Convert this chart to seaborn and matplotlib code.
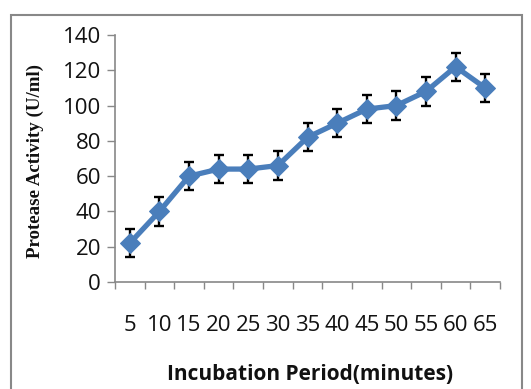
import matplotlib
matplotlib.use("Agg")
import matplotlib.pyplot as plt
import seaborn as sns
import pandas as pd
import numpy as np
from matplotlib.patches import Rectangle

minutes = ["5", "10", "15", "20", "25", "30", "35", "40", "45", "50", "55", "60", "65"]
activity = [22, 40, 60, 64, 64, 66, 82, 90, 98, 100, 108, 122, 110]
errors = [8, 8, 8, 8, 8, 8, 8, 8, 8, 8, 8, 8, 8]

sns.set_theme(style="white")
plt.rcParams["font.family"] = ["Open Sans", "DejaVu Sans"]

df = pd.DataFrame({"pos": np.arange(len(minutes)), "activity": activity, "err": errors})

fig = plt.figure(figsize=(5.31, 3.89), dpi=100)
fig.patch.set_facecolor("white")
ax = fig.add_axes([115/531, 1-282/389, (500-115)/531, (282-35)/389])

blue = "#4A7EBB"
ax.errorbar(df["pos"], df["activity"], yerr=df["err"], fmt="none", ecolor="black",
            elinewidth=1.7, capsize=3.8, capthick=1.7, zorder=1)
sns.lineplot(data=df, x="pos", y="activity", ax=ax, color=blue, linewidth=3.8,
             marker="D", markersize=10, markeredgecolor=blue, zorder=3)

ax.set_xlim(-0.5, len(minutes) - 0.5)
ax.set_ylim(0, 140)
ax.set_yticks(range(0, 141, 20))
ax.set_xticks(df["pos"])
ax.set_xticklabels(minutes)
ax.set_xticks(np.arange(-0.5, len(minutes), 1.0), minor=True)
ax.tick_params(axis="x", which="major", length=0, pad=24, labelsize=16, labelcolor="#111111")
ax.tick_params(axis="x", which="minor", length=5, width=1, color="#888888", direction="out", bottom=True)
ax.tick_params(axis="y", length=6, width=1, color="#888888", direction="out", left=True,
               labelsize=16, pad=4, labelcolor="#111111")

for s in ["top", "right"]:
    ax.spines[s].set_visible(False)
for s in ["left", "bottom"]:
    ax.spines[s].set_color("#888888")
    ax.spines[s].set_linewidth(1.2)

ax.set_xlabel("Incubation Period(minutes)", fontsize=15, fontweight="bold", color="#111111")
ax.xaxis.set_label_coords((310-115)/385, -(374-282)/247, transform=ax.transAxes)
ax.xaxis.label.set_va("center")
ax.set_ylabel("Protease Activity (U/ml)", fontsize=13.6, fontweight="bold",
              family=["Liberation Serif", "DejaVu Serif"], color="#111111")
ax.yaxis.set_label_coords(-(115-35)/385, (282-161)/247, transform=ax.transAxes)
ax.yaxis.label.set_va("center")

fig.patches.append(Rectangle((11/531, -0.05), (522-11)/531, 1-15/389+0.05,
                             transform=fig.transFigure, fill=False,
                             edgecolor="#888888", linewidth=1.5))

fig.savefig("out.png", dpi=100)
